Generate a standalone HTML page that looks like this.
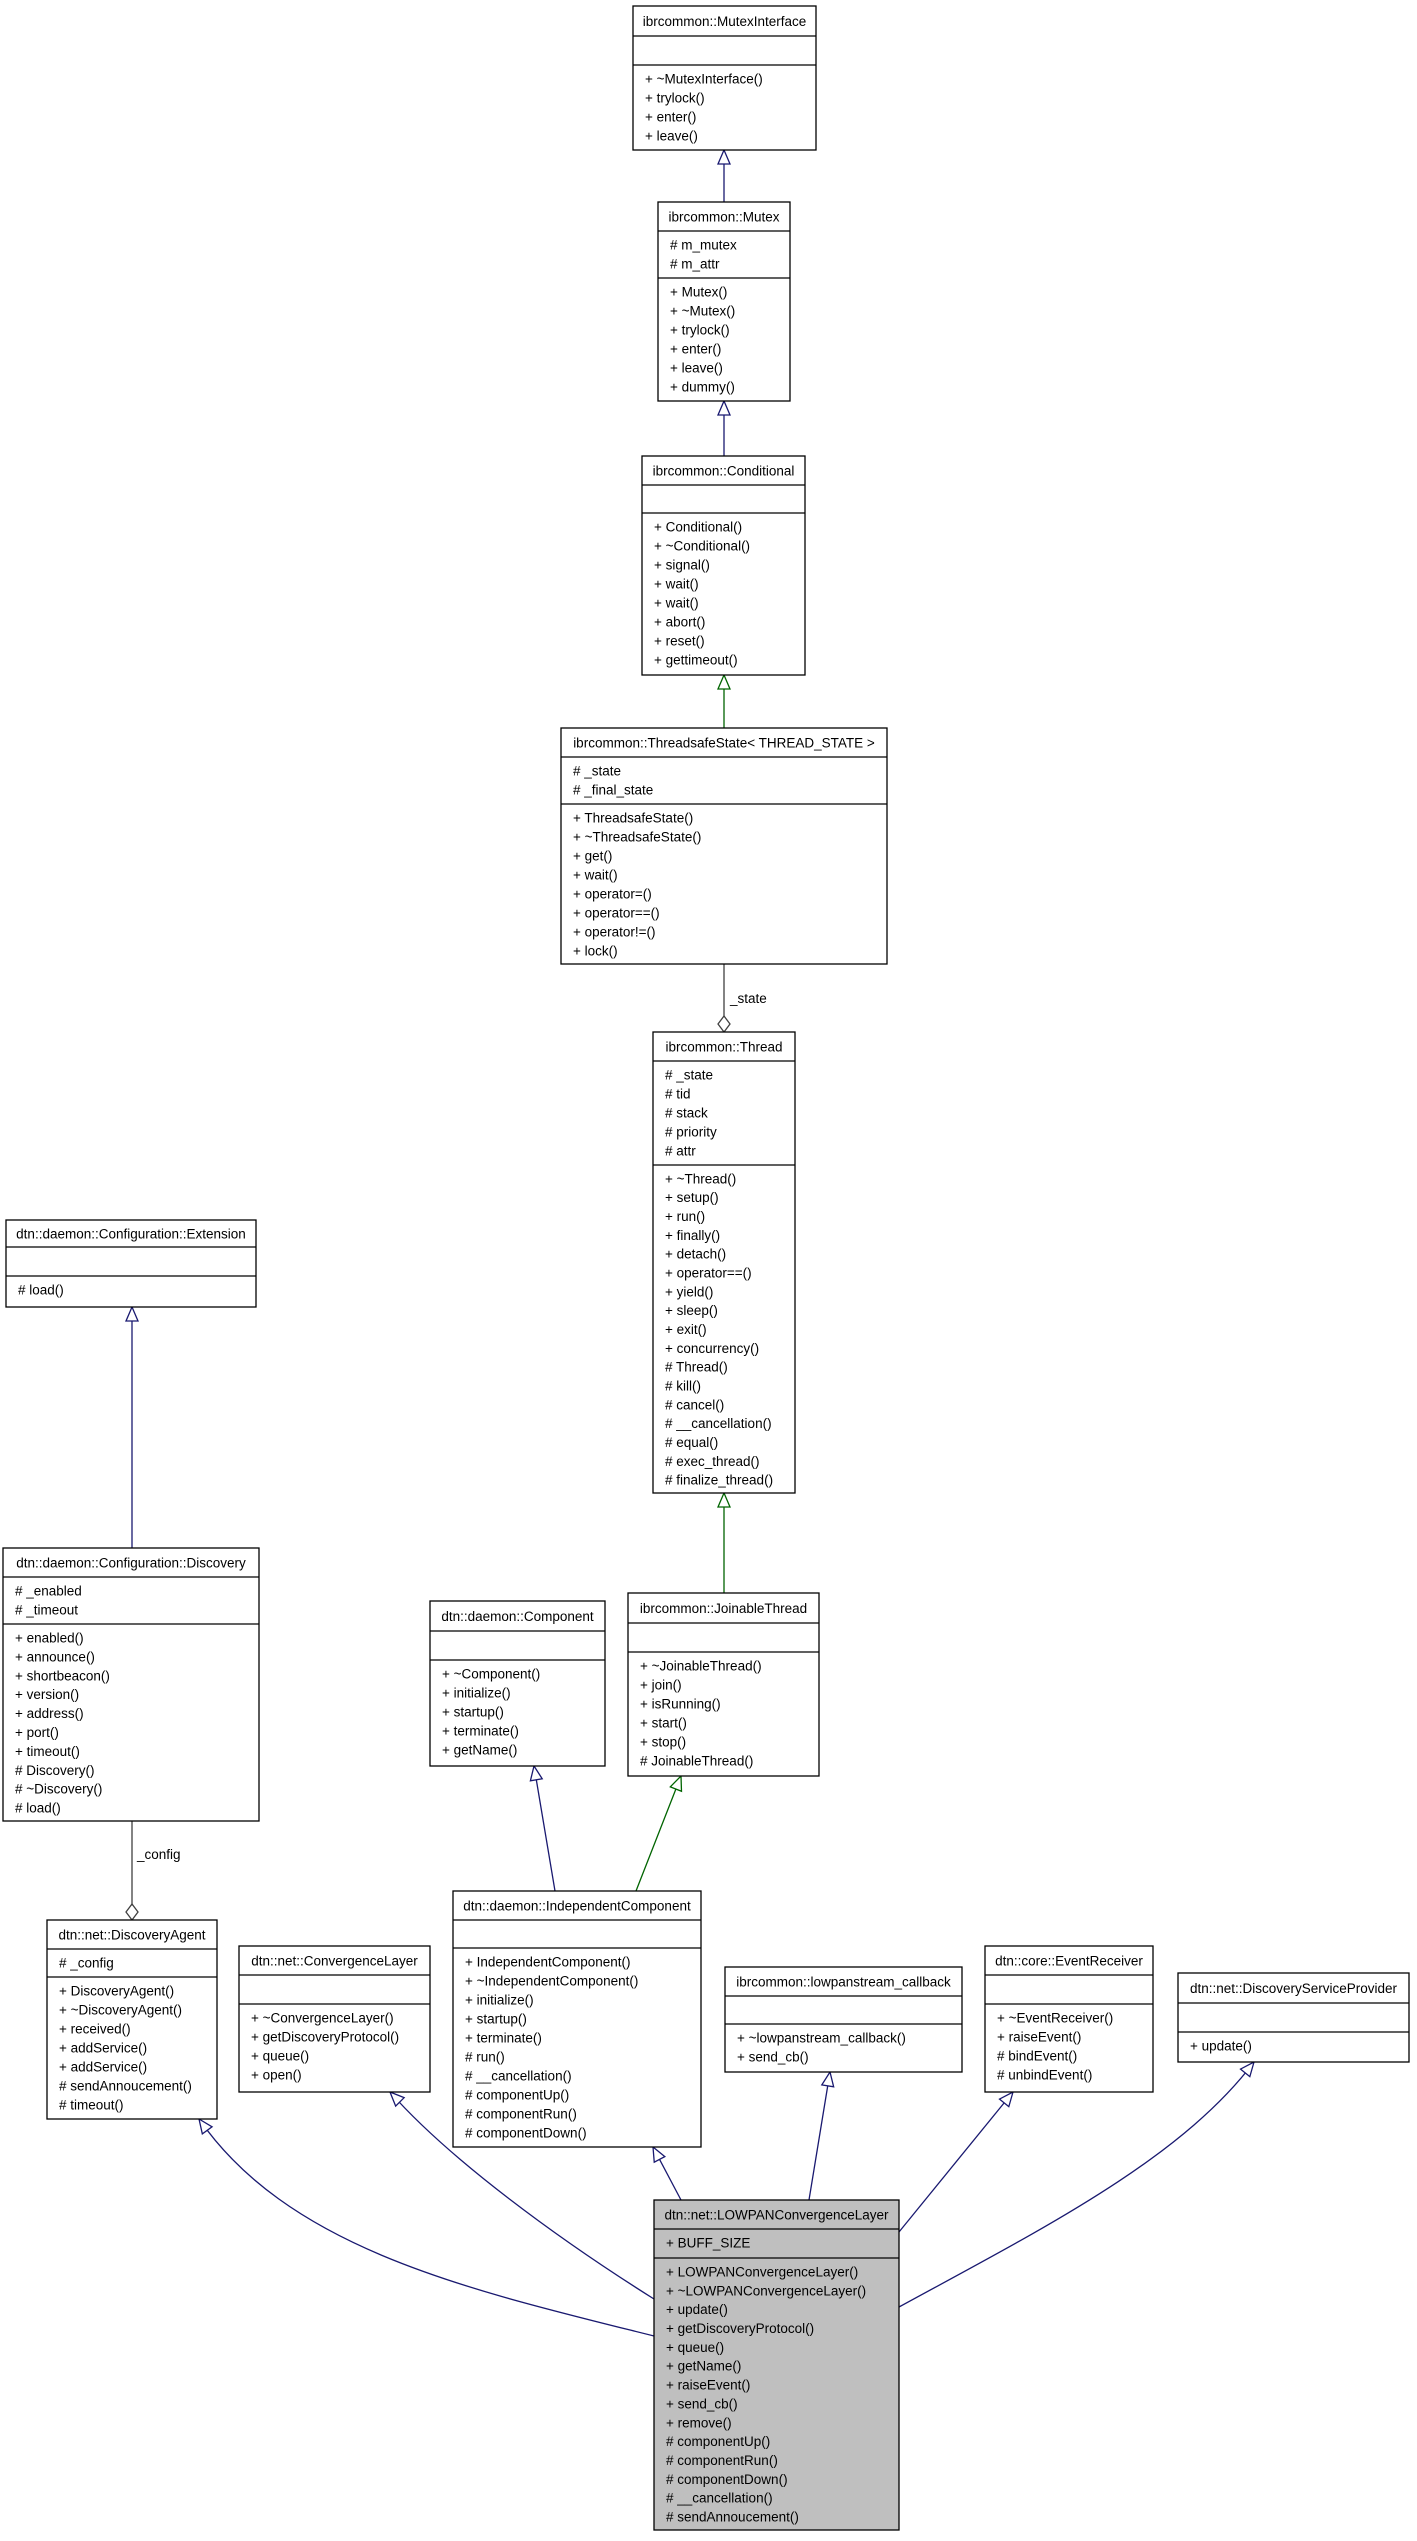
<!DOCTYPE html>
<html><head><meta charset="utf-8">
<style>
html,body{margin:0;padding:0;background:#fff;}
svg{display:block;}
text{font-family:"Liberation Sans",sans-serif;font-size:13.5px;fill:#000;}
</style></head>
<body>
<svg id="s" width="1417" height="2541" xmlns="http://www.w3.org/2000/svg"></svg>
<script>
var NS="http://www.w3.org/2000/svg";
var s=document.getElementById('s');
function el(t,a,txt){var e=document.createElementNS(NS,t);for(var k in a)e.setAttribute(k,a[k]);if(txt!==undefined)e.textContent=txt;s.appendChild(e);return e;}
var B=[
{n:'ibrcommon::MutexInterface',x:633,y:6,x2:816,y2:150,t1:36,t2:65,a:[],m:['+ ~MutexInterface()','+ trylock()','+ enter()','+ leave()']},
{n:'ibrcommon::Mutex',x:658,y:202,x2:790,y2:401,t1:231,t2:278,a:['# m_mutex','# m_attr'],m:['+ Mutex()','+ ~Mutex()','+ trylock()','+ enter()','+ leave()','+ dummy()']},
{n:'ibrcommon::Conditional',x:642,y:456,x2:805,y2:675,t1:485,t2:513,a:[],m:['+ Conditional()','+ ~Conditional()','+ signal()','+ wait()','+ wait()','+ abort()','+ reset()','+ gettimeout()']},
{n:'ibrcommon::ThreadsafeState< THREAD_STATE >',x:561,y:728,x2:887,y2:964,t1:757,t2:804,a:['# _state','# _final_state'],m:['+ ThreadsafeState()','+ ~ThreadsafeState()','+ get()','+ wait()','+ operator=()','+ operator==()','+ operator!=()','+ lock()']},
{n:'ibrcommon::Thread',x:653,y:1032,x2:795,y2:1493,t1:1061,t2:1165,a:['# _state','# tid','# stack','# priority','# attr'],m:['+ ~Thread()','+ setup()','+ run()','+ finally()','+ detach()','+ operator==()','+ yield()','+ sleep()','+ exit()','+ concurrency()','# Thread()','# kill()','# cancel()','# __cancellation()','# equal()','# exec_thread()','# finalize_thread()']},
{n:'ibrcommon::JoinableThread',x:628,y:1593,x2:819,y2:1776,t1:1623,t2:1652,a:[],m:['+ ~JoinableThread()','+ join()','+ isRunning()','+ start()','+ stop()','# JoinableThread()']},
{n:'dtn::daemon::Component',x:430,y:1601,x2:605,y2:1766,t1:1631,t2:1660,a:[],m:['+ ~Component()','+ initialize()','+ startup()','+ terminate()','+ getName()']},
{n:'dtn::daemon::IndependentComponent',x:453,y:1891,x2:701,y2:2147,t1:1920,t2:1948,a:[],m:['+ IndependentComponent()','+ ~IndependentComponent()','+ initialize()','+ startup()','+ terminate()','# run()','# __cancellation()','# componentUp()','# componentRun()','# componentDown()']},
{n:'dtn::daemon::Configuration::Extension',x:6,y:1220,x2:256,y2:1307,t1:1247,t2:1276,a:[],m:['# load()']},
{n:'dtn::daemon::Configuration::Discovery',x:3,y:1548,x2:259,y2:1821,t1:1577,t2:1624,a:['# _enabled','# _timeout'],m:['+ enabled()','+ announce()','+ shortbeacon()','+ version()','+ address()','+ port()','+ timeout()','# Discovery()','# ~Discovery()','# load()']},
{n:'dtn::net::DiscoveryAgent',x:47,y:1920,x2:217,y2:2119,t1:1949,t2:1977,a:['# _config'],m:['+ DiscoveryAgent()','+ ~DiscoveryAgent()','+ received()','+ addService()','+ addService()','# sendAnnoucement()','# timeout()']},
{n:'dtn::net::ConvergenceLayer',x:239,y:1946,x2:430,y2:2092,t1:1975,t2:2004,a:[],m:['+ ~ConvergenceLayer()','+ getDiscoveryProtocol()','+ queue()','+ open()']},
{n:'ibrcommon::lowpanstream_callback',x:725,y:1967,x2:962,y2:2072,t1:1996,t2:2024,a:[],m:['+ ~lowpanstream_callback()','+ send_cb()']},
{n:'dtn::core::EventReceiver',x:985,y:1946,x2:1153,y2:2092,t1:1975,t2:2004,a:[],m:['+ ~EventReceiver()','+ raiseEvent()','# bindEvent()','# unbindEvent()']},
{n:'dtn::net::DiscoveryServiceProvider',x:1178,y:1973,x2:1409,y2:2062,t1:2003,t2:2032,a:[],m:['+ update()']},
{n:'dtn::net::LOWPANConvergenceLayer',x:654,y:2200,x2:899,y2:2530,t1:2229,t2:2258,a:['+ BUFF_SIZE'],m:['+ LOWPANConvergenceLayer()','+ ~LOWPANConvergenceLayer()','+ update()','+ getDiscoveryProtocol()','+ queue()','+ getName()','+ raiseEvent()','+ send_cb()','+ remove()','# componentUp()','# componentRun()','# componentDown()','# __cancellation()','# sendAnnoucement()'],fill:'#bfbfbf'}
];
var NAVY='#191970',GREEN='#006400',GRAY='#404040';
function rows(list,top,bot,x){
  if(!list.length)return;
  var p=Math.min(19,(bot-top-8)/list.length);
  for(var i=0;i<list.length;i++){
    el('text',{x:x+12,y:top+4+p*(i+0.5)+5},list[i]);
  }
}
function edgeLine(d,c){el('path',{d:d,fill:'none',stroke:c,'stroke-width':1.3});}
function tri(tx,ty,fx,fy,c){
  var dx=tx-fx,dy=ty-fy,L=Math.sqrt(dx*dx+dy*dy);dx/=L;dy/=L;
  var bx=tx-dx*14,by=ty-dy*14,px=-dy*6,py=dx*6;
  el('polygon',{points:tx+','+ty+' '+(bx+px)+','+(by+py)+' '+(bx-px)+','+(by-py),fill:'#fff',stroke:c,'stroke-width':1.3});
}
function dia(tx,ty,fx,fy,c){
  var dx=tx-fx,dy=ty-fy,L=Math.sqrt(dx*dx+dy*dy);dx/=L;dy/=L;
  var mx=tx-dx*8,my=ty-dy*8,ex=tx-dx*16,ey=ty-dy*16,px=-dy*6,py=dx*6;
  el('polygon',{points:tx+','+ty+' '+(mx+px)+','+(my+py)+' '+ex+','+ey+' '+(mx-px)+','+(my-py),fill:'#fff',stroke:c,'stroke-width':1.3});
}
function straight(x1,y1,x2,y2,c,head){edgeLine('M'+x1+','+y1+' L'+x2+','+y2,c);(head||tri)(x2,y2,x1,y1,c);}
straight(724,202,724,150,NAVY);
straight(724,456,724,401,NAVY);
straight(724,728,724,675,GREEN);
straight(724,964,724,1032,GRAY,dia);
el('text',{x:730,y:1003},'_state');
straight(724,1593,724,1493,GREEN);
straight(555,1891,534,1766,NAVY);
straight(636,1891,681,1776,GREEN);
straight(132,1548,132,1307,NAVY);
straight(132,1821,132,1920,GRAY,dia);
el('text',{x:137,y:1859},'_config');
straight(681,2200,653,2147,NAVY);
straight(809,2200,830,2072,NAVY);
straight(899,2232,1013,2092,NAVY);
edgeLine('M654,2336 C470,2290 290,2250 199,2119',NAVY);tri(199,2119,225,2155,NAVY);
edgeLine('M654,2299 C560,2240 450,2160 390,2092',NAVY);tri(390,2092,420,2122,NAVY);
edgeLine('M899,2307 C1040,2230 1180,2160 1254,2062',NAVY);tri(1254,2062,1228,2094,NAVY);
B.forEach(function(b){
  el('rect',{x:b.x,y:b.y,width:b.x2-b.x,height:b.y2-b.y,fill:b.fill||'#fff',stroke:'#000','stroke-width':1.3});
  el('line',{x1:b.x,y1:b.t1,x2:b.x2,y2:b.t1,stroke:'#000','stroke-width':1.3});
  el('line',{x1:b.x,y1:b.t2,x2:b.x2,y2:b.t2,stroke:'#000','stroke-width':1.3});
  el('text',{x:(b.x+b.x2)/2,y:(b.y+b.t1)/2+5,'text-anchor':'middle'},b.n);
  rows(b.a,b.t1,b.t2,b.x);
  rows(b.m,b.t2,b.y2,b.x);
});
</script>
</body></html>
